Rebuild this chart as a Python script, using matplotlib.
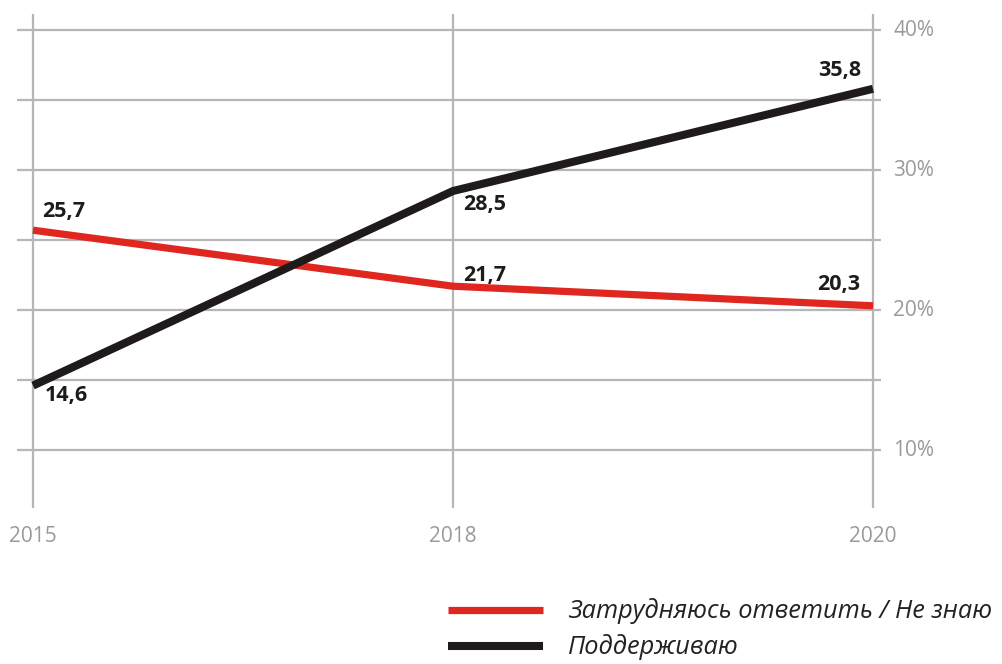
import matplotlib
matplotlib.use("Agg")
import matplotlib.pyplot as plt
from matplotlib.lines import Line2D

# =====================================================
# データ
# =====================================================
years = ["2015", "2018", "2020"]
dont_know = [25.7, 21.7, 20.3]     # Затрудняюсь ответить / Не знаю
support = [14.6, 28.5, 35.8]       # Поддерживаю
y_ticks = [10, 20, 30, 40]
grid_levels = [10, 15, 20, 25, 30, 35, 40]

series_names = ["Затрудняюсь ответить / Не знаю", "Поддерживаю"]

# =====================================================
# 設定
# =====================================================
RED = "#e0271f"
BLACK = "#1f1b1b"
GRID = "#b6b6ba"
TICK_TXT = "#9a9a9e"
plt.rcParams["font.family"] = ["Open Sans", "DejaVu Sans"]

W, H, DPI = 1002, 664, 100
fig = plt.figure(figsize=(W / DPI, H / DPI), dpi=DPI)
ax = fig.add_axes([0, 0, 1, 1])
ax.set_axis_off()

# ピクセル -> データ座標 (x: 420px/カテゴリ, y: 14px/%)
X0, XS = 33, 420
Y10, YS = 450, 14
ax.set_xlim(-X0 / XS, (W - X0) / XS)
ax.set_ylim(10 - (H - Y10) / YS, 10 + Y10 / YS)

xs = list(range(len(years)))

# グリッド
ax.hlines(grid_levels, (17 - X0) / XS, (881 - X0) / XS, color=GRID, lw=1.6, zorder=1)
ax.vlines(xs, 10 - (508 - Y10) / YS, 10 + (Y10 - 14) / YS, color=GRID, lw=1.6, zorder=1)

# 線
ax.plot(xs, dont_know, color=RED, lw=5.2, solid_capstyle="butt", zorder=3)
ax.plot(xs, support, color=BLACK, lw=5.8, solid_capstyle="butt", zorder=4)

# データラベル (ピクセルオフセット)
red_off = [(9, 19, "left"), (10, 11, "left"), (-13, 21, "right")]
blk_off = [(12, -10, "left"), (10, -13, "left"), (-12, 18, "right")]
for vals, offs in [(dont_know, red_off), (support, blk_off)]:
    for i, v in enumerate(vals):
        dx, dy, ha = offs[i]
        ax.annotate(f"{v:.1f}".replace(".", ","), (i, v), xytext=(dx, dy),
                    textcoords="offset pixels", ha=ha, va="center",
                    fontsize=15.5, fontweight="bold", color=BLACK, zorder=5)

# 軸ラベル
for t in y_ticks:
    ax.text((893 - X0) / XS, t, f"{t}%", ha="left", va="center",
            fontsize=15, color=TICK_TXT)
for i, y in enumerate(years):
    ax.text(i, 10 - (537 - Y10) / YS, y, ha="center", va="center",
            fontsize=15, color=TICK_TXT)

# 凡例
for (name, col, lw, py) in [(series_names[0], RED, 5.2, 610), (series_names[1], BLACK, 5.8, 646)]:
    fig.add_artist(Line2D([448 / W, 543 / W], [1 - py / H, 1 - py / H],
                          color=col, lw=lw, solid_capstyle="butt",
                          transform=fig.transFigure))
    fig.text(568 / W, 1 - (py + 1) / H, name, ha="left", va="center",
             fontsize=18.3, style="italic", color="#222222")

fig.savefig("out.png", dpi=DPI, facecolor="white")
